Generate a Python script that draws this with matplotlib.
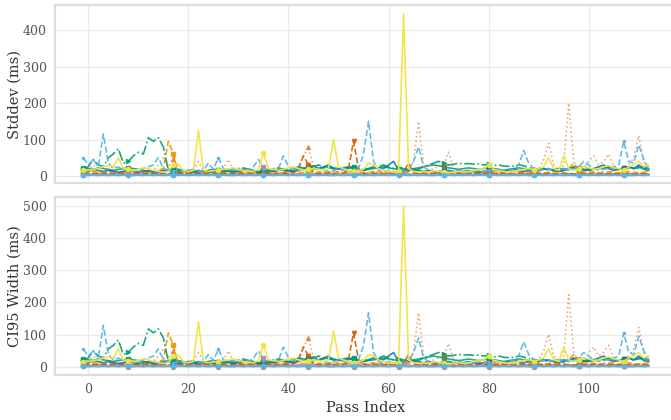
import matplotlib
matplotlib.use('Agg')
import matplotlib.pyplot as plt

plt.rcParams['font.family'] = 'DejaVu Serif'

# pass index -1 .. 112
passes = list(range(-1, 113))

# ---- stddev (ms) ----
sd_yellow = [15, 15, 18, 20, 25, 28, 25, 50, 20, 18,
             15, 18, 22, 20, 15, 12, 10, 12, 30, 32,
             15, 12, 15, 125, 15, 12, 14, 15, 18, 20,
             22, 18, 15, 14, 12, 18, 62, 20, 18, 15,
             18, 22, 25, 20, 15, 18, 20, 18, 15, 20,
             100, 25, 20, 15, 12, 15, 18, 35, 30, 20,
             15, 12, 10, 12, 445, 20, 12, 10, 12, 10,
             15, 12, 10, 8, 10, 12, 10, 12, 15, 18,
             20, 30, 18, 15, 12, 10, 12, 15, 18, 20,
             15, 20, 25, 50, 20, 15, 55, 20, 15, 20,
             25, 22, 18, 20, 25, 28, 22, 20, 15, 25,
             30, 40, 25, 30]
sd_sky = [50, 30, 45, 25, 115, 35, 20, 25, 15, 18,
          12, 15, 20, 25, 30, 50, 20, 15, 12, 15,
          12, 15, 18, 12, 15, 35, 18, 50, 20, 15,
          18, 15, 20, 15, 25, 45, 20, 15, 18, 20,
          55, 25, 18, 15, 20, 15, 18, 20, 15, 12,
          15, 20, 15, 12, 15, 20, 60, 150, 40, 15,
          12, 15, 12, 10, 12, 15, 40, 80, 25, 15,
          12, 15, 12, 10, 12, 15, 12, 10, 12, 15,
          12, 15, 18, 15, 12, 15, 18, 30, 70, 35,
          20, 15, 18, 20, 15, 18, 20, 15, 20, 25,
          40, 30, 20, 15, 18, 20, 25, 30, 95, 40,
          35, 85, 45, 20]
sd_green_dd = [20, 25, 45, 30, 25, 50, 60, 75, 35, 40,
               55, 65, 60, 105, 95, 105, 80, 15, 12, 15,
               12, 10, 12, 15, 12, 10, 12, 15, 12, 15,
               18, 20, 22, 18, 15, 12, 15, 18, 20, 22,
               18, 15, 20, 25, 22, 20, 25, 30, 25, 22,
               20, 18, 20, 22, 25, 20, 18, 20, 22, 25,
               30, 25, 20, 22, 20, 18, 15, 18, 25, 30,
               35, 40, 35, 30, 32, 35, 33, 34, 32, 33,
               30, 32, 28, 30, 27, 26, 27, 30, 28, 22,
               20, 18, 20, 15, 18, 20, 15, 18, 20, 22,
               25, 20, 18, 22, 20, 25, 22, 20, 18, 22,
               20, 25, 20, 18]
sd_orange = [8, 10, 12, 10, 8, 10, 12, 8, 10, 20,
             12, 10, 8, 10, 12, 15, 20, 95, 60, 10,
             8, 10, 12, 10, 8, 10, 12, 10, 8, 10,
             12, 10, 8, 10, 12, 11, 8, 10, 12, 10,
             8, 10, 12, 10, 9, 10, 12, 10, 8, 10,
             12, 10, 8, 11, 12, 10, 8, 10, 12, 10,
             8, 10, 12, 10, 8, 11, 12, 10, 8, 10,
             12, 10, 8, 10, 12, 10, 9, 10, 12, 10,
             8, 10, 12, 10, 8, 10, 12, 11, 8, 10,
             12, 10, 8, 10, 12, 10, 15, 20, 35, 15,
             10, 12, 10, 8, 10, 12, 10, 8, 10, 12,
             10, 8, 10, 12]
sd_verm = [6, 5, 7, 6, 5, 8, 6, 5, 7, 18,
           8, 6, 5, 7, 6, 5, 8, 6, 5, 7,
           6, 5, 7, 6, 5, 8, 6, 5, 7, 6,
           5, 8, 6, 5, 7, 6, 5, 8, 6, 5,
           7, 6, 8, 20, 55, 30, 8, 6, 5, 7,
           6, 5, 7, 20, 95, 20, 6, 5, 7, 6,
           5, 8, 6, 5, 10, 35, 8, 6, 5, 7,
           6, 5, 8, 6, 5, 7, 6, 5, 8, 6,
           5, 7, 6, 5, 8, 6, 5, 7, 6, 5,
           8, 6, 5, 7, 6, 5, 8, 6, 5, 7,
           6, 5, 8, 6, 5, 7, 6, 5, 8, 6,
           5, 7, 6, 5]
sd_tan = [10, 15, 30, 12, 10, 15, 30, 12, 10, 8,
          8, 10, 12, 10, 15, 30, 50, 25, 45, 15,
          10, 12, 15, 40, 15, 10, 12, 15, 20, 45,
          15, 10, 12, 10, 8, 10, 12, 10, 8, 10,
          10, 12, 15, 25, 55, 80, 25, 12, 10, 8,
          10, 12, 10, 8, 10, 12, 10, 8, 10, 12,
          10, 8, 10, 12, 15, 20, 40, 150, 30, 15,
          20, 25, 30, 65, 20, 12, 10, 8, 10, 12,
          10, 12, 10, 8, 10, 12, 10, 8, 10, 20,
          15, 20, 45, 90, 30, 15, 30, 200, 40, 15,
          20, 40, 55, 30, 40, 60, 25, 15, 20, 30,
          50, 110, 40, 15]
sd_blue = [15, 12, 18, 15, 12, 15, 12, 10, 12, 15,
           12, 10, 12, 15, 12, 10, 12, 15, 12, 10,
           12, 15, 12, 10, 12, 15, 18, 15, 12, 15,
           12, 15, 18, 15, 12, 10, 12, 15, 12, 15,
           18, 15, 12, 15, 20, 25, 28, 20, 25, 30,
           20, 18, 22, 25, 20, 18, 15, 20, 25, 22,
           20, 30, 40, 15, 12, 15, 18, 15, 12, 15,
           12, 10, 12, 15, 12, 10, 12, 15, 12, 10,
           12, 15, 18, 15, 12, 15, 18, 15, 12, 15,
           12, 15, 18, 20, 15, 12, 15, 18, 25, 20,
           15, 18, 20, 25, 30, 20, 15, 18, 22, 25,
           20, 30, 18, 15]
sd_green = [22, 20, 18, 22, 20, 18, 15, 18, 20, 22,
            20, 18, 15, 12, 10, 12, 15, 18, 20, 18,
            15, 12, 10, 12, 15, 12, 10, 12, 15, 12,
            10, 12, 15, 18, 15, 12, 10, 12, 15, 18,
            15, 12, 15, 18, 20, 22, 18, 20, 22, 25,
            22, 20, 18, 20, 25, 18, 15, 18, 20, 22,
            25, 22, 20, 18, 15, 18, 20, 22, 25, 28,
            30, 28, 25, 22, 20, 18, 20, 22, 20, 18,
            20, 22, 20, 18, 15, 18, 20, 22, 20, 18,
            15, 18, 20, 18, 15, 18, 20, 18, 22, 20,
            18, 15, 18, 20, 22, 25, 20, 18, 22, 25,
            20, 22, 25, 20]
sd_pink = [6, 5, 4, 6, 5, 4, 6, 5, 4, 6,
           5, 4, 6, 5, 4, 6, 5, 4, 6, 5,
           4, 6, 5, 4, 6, 5, 4, 6, 5, 4,
           6, 5, 4, 6, 5, 4, 25, 6, 5, 4,
           6, 5, 4, 6, 5, 4, 6, 5, 4, 6,
           5, 4, 6, 5, 4, 6, 5, 4, 6, 5,
           4, 6, 5, 4, 6, 5, 4, 6, 5, 4,
           6, 5, 4, 6, 5, 4, 6, 5, 4, 6,
           5, 4, 6, 5, 4, 6, 5, 4, 6, 5,
           4, 6, 5, 4, 6, 5, 4, 6, 5, 4,
           6, 5, 4, 6, 5, 4, 6, 5, 4, 6,
           5, 4, 6, 5]
sd_gray = [2, 1, 2, 1, 2, 1, 2, 1, 2, 1,
           1, 2, 1, 2, 1, 2, 1, 2, 1, 2,
           2, 1, 2, 1, 2, 1, 2, 1, 2, 1,
           1, 2, 1, 2, 1, 2, 1, 2, 1, 2,
           2, 1, 2, 1, 2, 1, 2, 1, 2, 1,
           1, 2, 1, 2, 1, 2, 1, 2, 1, 2,
           2, 1, 2, 1, 2, 1, 2, 1, 2, 1,
           1, 2, 1, 2, 1, 2, 1, 2, 1, 2,
           2, 1, 2, 1, 2, 1, 2, 1, 2, 1,
           1, 2, 1, 2, 1, 2, 1, 2, 1, 2,
           2, 1, 2, 1, 2, 1, 2, 1, 2, 1,
           1, 2, 1, 2]
sd_lblue = [3, 2, 3, 2, 3, 2, 3, 2, 3, 2,
            2, 3, 2, 3, 2, 3, 2, 3, 2, 3,
            3, 2, 3, 2, 3, 2, 3, 2, 3, 2,
            2, 3, 2, 3, 2, 3, 2, 3, 2, 3,
            3, 2, 3, 2, 3, 2, 3, 2, 3, 2,
            2, 3, 2, 3, 2, 3, 2, 3, 2, 3,
            3, 2, 3, 2, 3, 2, 3, 2, 3, 2,
            2, 3, 2, 3, 2, 3, 2, 3, 2, 3,
            3, 2, 3, 2, 3, 2, 3, 2, 3, 2,
            2, 3, 2, 3, 2, 3, 2, 3, 2, 3,
            3, 2, 3, 2, 3, 2, 3, 2, 3, 2,
            2, 3, 2, 3]

# ---- CI95 width (ms) ----
ci_yellow = [17, 17, 20, 22, 28, 31, 28, 56, 22, 20,
             17, 20, 25, 22, 17, 13, 11, 13, 34, 36,
             17, 13, 17, 140, 17, 13, 16, 17, 20, 22,
             25, 20, 17, 16, 13, 20, 69, 22, 20, 17,
             20, 25, 28, 22, 17, 20, 22, 20, 17, 22,
             112, 28, 22, 17, 13, 17, 20, 39, 34, 22,
             17, 13, 11, 13, 498, 22, 13, 11, 13, 11,
             17, 13, 11, 9, 11, 13, 11, 13, 17, 20,
             22, 34, 20, 17, 13, 11, 13, 17, 20, 22,
             17, 22, 28, 56, 22, 17, 62, 22, 17, 22,
             28, 25, 20, 22, 28, 31, 25, 22, 17, 28,
             34, 45, 28, 34]
ci_sky = [56, 34, 50, 28, 129, 39, 22, 28, 17, 20,
          13, 17, 22, 28, 34, 56, 22, 17, 13, 17,
          13, 17, 20, 13, 17, 39, 20, 56, 22, 17,
          20, 17, 22, 17, 28, 50, 22, 17, 20, 22,
          62, 28, 20, 17, 22, 17, 20, 22, 17, 13,
          17, 22, 17, 13, 17, 22, 67, 168, 45, 17,
          13, 17, 13, 11, 13, 17, 45, 90, 28, 17,
          13, 17, 13, 11, 13, 17, 13, 11, 13, 17,
          13, 17, 20, 17, 13, 17, 20, 34, 78, 39,
          22, 17, 20, 22, 17, 20, 22, 17, 22, 28,
          45, 34, 22, 17, 20, 22, 28, 34, 106, 45,
          39, 95, 50, 22]
ci_green_dd = [22, 28, 50, 34, 28, 56, 67, 84, 39, 45,
               62, 73, 67, 118, 106, 118, 90, 17, 13, 17,
               13, 11, 13, 17, 13, 11, 13, 17, 13, 17,
               20, 22, 25, 20, 17, 13, 17, 20, 22, 25,
               20, 17, 22, 28, 25, 22, 28, 34, 28, 25,
               22, 20, 22, 25, 28, 22, 20, 22, 25, 28,
               34, 28, 22, 25, 22, 20, 17, 20, 28, 34,
               39, 45, 39, 34, 36, 39, 37, 38, 36, 37,
               34, 36, 31, 34, 30, 29, 30, 34, 31, 25,
               22, 20, 22, 17, 20, 22, 17, 20, 22, 25,
               28, 22, 20, 25, 22, 28, 25, 22, 20, 25,
               22, 28, 22, 20]
ci_orange = [9, 11, 13, 11, 9, 11, 13, 9, 11, 22,
             13, 11, 9, 11, 13, 17, 22, 106, 67, 11,
             9, 11, 13, 11, 9, 11, 13, 11, 9, 11,
             13, 11, 9, 11, 13, 12, 9, 11, 13, 11,
             9, 11, 13, 11, 10, 11, 13, 11, 9, 11,
             13, 11, 9, 12, 13, 11, 9, 11, 13, 11,
             9, 11, 13, 11, 9, 12, 13, 11, 9, 11,
             13, 11, 9, 11, 13, 11, 10, 11, 13, 11,
             9, 11, 13, 11, 9, 11, 13, 12, 9, 11,
             13, 11, 9, 11, 13, 11, 17, 22, 39, 17,
             11, 13, 11, 9, 11, 13, 11, 9, 11, 13,
             11, 9, 11, 13]
ci_verm = [7, 6, 8, 7, 6, 9, 7, 6, 8, 20,
           9, 7, 6, 8, 7, 6, 9, 7, 6, 8,
           7, 6, 8, 7, 6, 9, 7, 6, 8, 7,
           6, 9, 7, 6, 8, 7, 6, 9, 7, 6,
           8, 7, 9, 22, 62, 34, 9, 7, 6, 8,
           7, 6, 8, 22, 106, 22, 7, 6, 8, 7,
           6, 9, 7, 6, 11, 39, 9, 7, 6, 8,
           7, 6, 9, 7, 6, 8, 7, 6, 9, 7,
           6, 8, 7, 6, 9, 7, 6, 8, 7, 6,
           9, 7, 6, 8, 7, 6, 9, 7, 6, 8,
           7, 6, 9, 7, 6, 8, 7, 6, 9, 7,
           6, 8, 7, 6]
ci_tan = [11, 17, 34, 13, 11, 17, 34, 13, 11, 9,
          9, 11, 13, 11, 17, 34, 56, 28, 50, 17,
          11, 13, 17, 45, 17, 11, 13, 17, 22, 50,
          17, 11, 13, 11, 9, 11, 13, 11, 9, 11,
          11, 13, 17, 28, 62, 90, 28, 13, 11, 9,
          11, 13, 11, 9, 11, 13, 11, 9, 11, 13,
          11, 9, 11, 13, 17, 22, 45, 168, 34, 17,
          22, 28, 34, 73, 22, 13, 11, 9, 11, 13,
          11, 13, 11, 9, 11, 13, 11, 9, 11, 22,
          17, 22, 50, 101, 34, 17, 34, 224, 45, 17,
          22, 45, 62, 34, 45, 67, 28, 17, 22, 34,
          56, 123, 45, 17]
ci_blue = [17, 13, 20, 17, 13, 17, 13, 11, 13, 17,
           13, 11, 13, 17, 13, 11, 13, 17, 13, 11,
           13, 17, 13, 11, 13, 17, 20, 17, 13, 17,
           13, 17, 20, 17, 13, 11, 13, 17, 13, 17,
           20, 17, 13, 17, 22, 28, 31, 22, 28, 34,
           22, 20, 25, 28, 22, 20, 17, 22, 28, 25,
           22, 34, 45, 17, 13, 17, 20, 17, 13, 17,
           13, 11, 13, 17, 13, 11, 13, 17, 13, 11,
           13, 17, 20, 17, 13, 17, 20, 17, 13, 17,
           13, 17, 20, 22, 17, 13, 17, 20, 28, 22,
           17, 20, 22, 28, 34, 22, 17, 20, 25, 28,
           22, 34, 20, 17]
ci_green = [25, 22, 20, 25, 22, 20, 17, 20, 22, 25,
            22, 20, 17, 13, 11, 13, 17, 20, 22, 20,
            17, 13, 11, 13, 17, 13, 11, 13, 17, 13,
            11, 13, 17, 20, 17, 13, 11, 13, 17, 20,
            17, 13, 17, 20, 22, 25, 20, 22, 25, 28,
            25, 22, 20, 22, 28, 20, 17, 20, 22, 25,
            28, 25, 22, 20, 17, 20, 22, 25, 28, 31,
            34, 31, 28, 25, 22, 20, 22, 25, 22, 20,
            22, 25, 22, 20, 17, 20, 22, 25, 22, 20,
            17, 20, 22, 20, 17, 20, 22, 20, 25, 22,
            20, 17, 20, 22, 25, 28, 22, 20, 25, 28,
            22, 25, 28, 22]
ci_pink = [7, 6, 4, 7, 6, 4, 7, 6, 4, 7,
           6, 4, 7, 6, 4, 7, 6, 4, 7, 6,
           4, 7, 6, 4, 7, 6, 4, 7, 6, 4,
           7, 6, 4, 7, 6, 4, 28, 7, 6, 4,
           7, 6, 4, 7, 6, 4, 7, 6, 4, 7,
           6, 4, 7, 6, 4, 7, 6, 4, 7, 6,
           4, 7, 6, 4, 7, 6, 4, 7, 6, 4,
           7, 6, 4, 7, 6, 4, 7, 6, 4, 7,
           6, 4, 7, 6, 4, 7, 6, 4, 7, 6,
           4, 7, 6, 4, 7, 6, 4, 7, 6, 4,
           7, 6, 4, 7, 6, 4, 7, 6, 4, 7,
           6, 4, 7, 6]
ci_gray = sd_gray
ci_lblue = sd_lblue

colors = {
    'yellow': '#F0E442', 'sky': '#56B4E9', 'green': '#009E73',
    'orange': '#E69F00', 'verm': '#D55E00', 'blue': '#0072B2',
    'pink': '#CC79A7', 'gray': '#999999',
}

# (sd, ci, color, linestyle, marker, alpha)
series = [
    (sd_gray, ci_gray, colors['gray'], '-', 'o', 0.9),
    (sd_pink, ci_pink, colors['pink'], '-', 's', 0.9),
    (sd_orange, ci_orange, colors['orange'], '--', 's', 0.9),
    (sd_green, ci_green, colors['green'], '-', 's', 0.85),
    (sd_blue, ci_blue, colors['blue'], '-', 'v', 0.85),
    (sd_verm, ci_verm, colors['verm'], '--', 'v', 0.9),
    (sd_green_dd, ci_green_dd, colors['green'], '-.', '>', 0.9),
    (sd_tan, ci_tan, colors['verm'], ':', '^', 0.5),
    (sd_sky, ci_sky, colors['sky'], '--', '.', 0.9),
    (sd_yellow, ci_yellow, colors['yellow'], '-', 'o', 0.95),
    (sd_lblue, ci_lblue, colors['sky'], '-', 'o', 1.0),
]

fig = plt.figure(figsize=(6.71, 4.20), dpi=100)
ax1 = fig.add_axes([0.082, 0.564, 0.927, 0.424])
ax2 = fig.add_axes([0.082, 0.107, 0.927, 0.424], sharex=ax1)

for sd, ci, c, ls, mk, a in series:
    ax1.plot(passes, sd, color=c, ls=ls, lw=1.2, alpha=a,
             marker=mk, markersize=3, markevery=9)
    ax2.plot(passes, ci, color=c, ls=ls, lw=1.2, alpha=a,
             marker=mk, markersize=3, markevery=9)

for ax in (ax1, ax2):
    ax.set_facecolor('white')
    ax.grid(True, color='#ebebeb', lw=1)
    ax.set_axisbelow(True)
    for s in ax.spines.values():
        s.set_color('#dddddd')
        s.set_linewidth(1.6)
    ax.tick_params(length=0, labelsize=9, labelcolor='#555555', pad=6)

ax1.set_xlim(-6.65, 117.65)
ax1.set_ylim(-20, 470)
ax2.set_ylim(-25, 527)
ax1.set_yticks([0, 100, 200, 300, 400])
ax2.set_yticks([0, 100, 200, 300, 400, 500])
ax2.set_xticks([0, 20, 40, 60, 80, 100])
ax1.tick_params(labelbottom=False)

ax1.set_ylabel('Stddev (ms)', fontsize=10.5, color='#333333')
ax2.set_ylabel('CI95 Width (ms)', fontsize=10.5, color='#333333')
ax1.yaxis.set_label_coords(-0.053, 0.5)
ax2.yaxis.set_label_coords(-0.053, 0.5)
ax2.set_xlabel('Pass Index', fontsize=10.5, color='#333333', labelpad=3)

fig.savefig('out.png', dpi=100)
